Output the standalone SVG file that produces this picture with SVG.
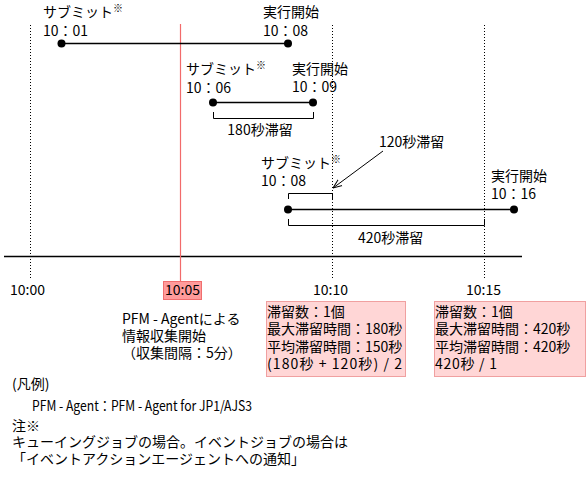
<svg xmlns="http://www.w3.org/2000/svg" width="588" height="499" viewBox="0 0 588 499">
<style>
text{font-family:"Noto Sans CJK JP","Noto Sans",sans-serif;font-size:14px;fill:#000}
.sup{font-size:10px}
.mid{text-anchor:middle}
.ln{stroke:#000;stroke-width:1.3;fill:none}
.br{stroke:#000;stroke-width:1;fill:none}
.dot{stroke:#000;stroke-width:1;stroke-dasharray:1 2}
.pk{fill:#ffd6d6;stroke:#f0a0a0;stroke-width:1}
</style>
<defs>
<marker id="open" viewBox="0 0 10 10" refX="10" refY="5" markerWidth="9" markerHeight="9" orient="auto" markerUnits="userSpaceOnUse">
<path d="M0,1 L10,5 L0,9" fill="none" stroke="#000" stroke-width="1.1"/>
</marker>
</defs>
<rect width="588" height="499" fill="#fff"/>
<g id="grid">
<line class="dot" x1="30.5" y1="25" x2="30.5" y2="280"/>
<line class="dot" x1="332.5" y1="25" x2="332.5" y2="280"/>
<line class="dot" x1="484.5" y1="25" x2="484.5" y2="280"/>
<line x1="4" y1="256.5" x2="522" y2="256.5" stroke="#000" stroke-width="1.3"/>
<line x1="180.5" y1="24" x2="180.5" y2="281" stroke="#f26a6a" stroke-width="1.2"/>
</g>
<g id="axis-labels">
<text x="10" y="295">10:00</text>
<rect x="163.5" y="281.5" width="38" height="18" fill="#ff9b9b" stroke="#f06e6e" stroke-width="1"/>
<text x="165" y="295">10:05</text>
<text x="313" y="295">10:10</text>
<text x="466" y="295">10:15</text>
</g>
<g id="job1">
<text x="43" y="17">サブミット<tspan class="sup" dy="-5">※</tspan></text>
<text x="43" y="36">10：01</text>
<text x="263" y="17">実行開始</text>
<text x="263" y="36">10：08</text>
</g>
<g id="job2">
<text x="186" y="74">サブミット<tspan class="sup" dy="-5">※</tspan></text>
<text x="186" y="93">10：06</text>
<text x="292" y="74">実行開始</text>
<text x="292" y="92">10：09</text>
<text class="mid" x="260" y="135">180秒滞留</text>
</g>
<g id="job3">
<text x="261" y="168">サブミット<tspan class="sup" dy="-5">※</tspan></text>
<text x="261" y="186">10：08</text>
<text x="491" y="181">実行開始</text>
<text x="491" y="199">10：16</text>
<text x="379" y="147">120秒滞留</text>
<text x="358" y="243">420秒滞留</text>
</g>
<g id="connectors">
<line class="ln" x1="61" y1="43.5" x2="288" y2="43.5"/>
<circle cx="61.5" cy="43.5" r="4"/>
<circle cx="288" cy="43.5" r="4"/>
<line class="ln" x1="213" y1="102.5" x2="313" y2="102.5"/>
<circle cx="213" cy="102.5" r="4"/>
<circle cx="313" cy="102.5" r="4"/>
<path class="br" d="M213.5,112 V118.5 H313.5 V112"/>
<line class="ln" x1="288" y1="209.5" x2="514" y2="209.5"/>
<circle cx="288" cy="209.5" r="4"/>
<circle cx="514" cy="209.5" r="4"/>
<path class="br" d="M288.5,199 V193.5 H332.5 V199"/>
<path class="br" d="M288.5,219 V225.5 H484.5 V219"/>
<line x1="383" y1="151" x2="333" y2="188" stroke="#000" stroke-width="1" marker-end="url(#open)"/>
</g>
<g id="note-start">
<text x="122" y="324">PFM - Agentによる</text>
<text x="122" y="341">情報収集開始</text>
<text x="122" y="358">（収集間隔：5分）</text>
</g>
<g id="summary1">
<rect class="pk" x="266.5" y="301.5" width="139" height="75"/>
<text x="267" y="317">滞留数：1個</text>
<text x="267" y="334">最大滞留時間：180秒</text>
<text x="267" y="352">平均滞留時間：150秒</text>
<text x="267" y="369" textLength="135" lengthAdjust="spacing">(180秒 + 120秒) / 2</text>
</g>
<g id="summary2">
<rect class="pk" x="434.5" y="301.5" width="151" height="75"/>
<text x="435" y="317">滞留数：1個</text>
<text x="435" y="334">最大滞留時間：420秒</text>
<text x="435" y="352">平均滞留時間：420秒</text>
<text x="435" y="369" textLength="62" lengthAdjust="spacing">420秒 / 1</text>
</g>
<g id="legend">
<text x="12" y="389">(凡例)</text>
<text x="32" y="411" textLength="220" lengthAdjust="spacingAndGlyphs">PFM - Agent：PFM - Agent for JP1/AJS3</text>
<text x="12" y="431">注※</text>
<text x="12" y="447">キューイングジョブの場合。イベントジョブの場合は</text>
<text x="12" y="464">「イベントアクションエージェントへの通知」</text>
</g>
</svg>
